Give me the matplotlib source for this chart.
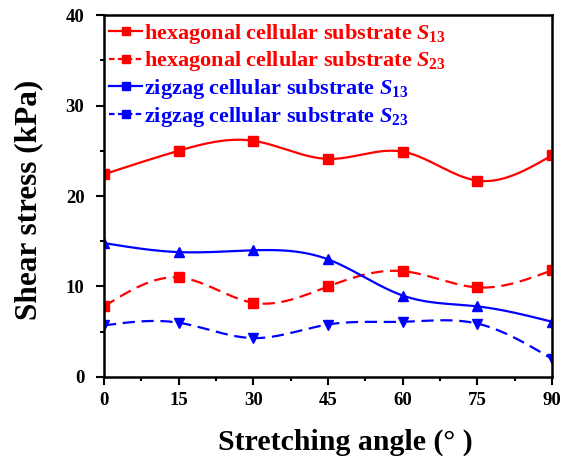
import numpy as np
import matplotlib
matplotlib.use("Agg")
import matplotlib.pyplot as plt
from matplotlib.lines import Line2D

angle = [0, 15, 30, 45, 60, 75, 90]
hex_s13 = [22.4, 25.0, 26.1, 24.1, 24.9, 21.7, 24.5]
hex_s23 = [7.8, 11.0, 8.2, 10.0, 11.7, 9.9, 11.8]
zig_s13 = [14.8, 13.8, 14.0, 13.0, 9.0, 7.8, 6.1]
zig_s23 = [5.7, 6.0, 4.3, 5.8, 6.1, 5.9, 2.0]

labels = [
    r"hexagonal cellular substrate $S_{\mathbf{13}}$",
    r"hexagonal cellular substrate $S_{\mathbf{23}}$",
    r"zigzag cellular substrate $S_{\mathbf{13}}$",
    r"zigzag cellular substrate $S_{\mathbf{23}}$",
]

plt.rcParams["font.family"] = "Liberation Serif"
plt.rcParams["font.weight"] = "bold"
plt.rcParams["mathtext.fontset"] = "custom"
plt.rcParams["mathtext.it"] = "Liberation Serif:italic:bold"
plt.rcParams["mathtext.bf"] = "Liberation Serif:bold"
plt.rcParams["mathtext.rm"] = "Liberation Serif:bold"


def natural_spline(x, y, n=300):
    # natural cubic spline through the measured points
    x = np.asarray(x, float)
    y = np.asarray(y, float)
    h = np.diff(x)
    m = len(x)
    A = np.zeros((m, m))
    b = np.zeros(m)
    A[0, 0] = A[-1, -1] = 1
    for i in range(1, m - 1):
        A[i, i - 1] = h[i - 1]
        A[i, i] = 2 * (h[i - 1] + h[i])
        A[i, i + 1] = h[i]
        b[i] = 3 * ((y[i + 1] - y[i]) / h[i] - (y[i] - y[i - 1]) / h[i - 1])
    c = np.linalg.solve(A, b)
    xs = np.linspace(x[0], x[-1], n)
    idx = np.clip(np.searchsorted(x, xs) - 1, 0, m - 2)
    dx = xs - x[idx]
    bc = (y[idx + 1] - y[idx]) / h[idx] - h[idx] * (2 * c[idx] + c[idx + 1]) / 3
    d = (c[idx + 1] - c[idx]) / (3 * h[idx])
    return xs, y[idx] + bc * dx + c[idx] * dx ** 2 + d * dx ** 3


fig = plt.figure(figsize=(5.68, 4.62), dpi=100)
ax = fig.add_axes([0.183, 0.184, 0.789, 0.7835])

dash = (0, (5.5, 3))
series = [
    (hex_s13, "red", "-", "s"),
    (hex_s23, "red", dash, "s"),
    (zig_s13, "blue", "-", "^"),
    (zig_s23, "blue", dash, "v"),
]

for vals, col, ls, mk in series:
    xs, ys = natural_spline(angle, vals)
    ax.plot(xs, ys, color=col, ls=ls, lw=1.6)
    ax.plot(angle, vals, ls="none", marker=mk, ms=7, color=col)

handles = [Line2D([], [], color=col, ls=(0, (2.5, 1.5)) if ls != "-" else "-",
                  lw=1.6, marker="s", ms=6)
           for _, col, ls, _ in series]
leg = ax.legend(handles, labels, loc="upper left", frameon=False,
                bbox_to_anchor=(-0.005, 1.003), handlelength=1.45,
                handletextpad=0.1, labelspacing=0.17, borderaxespad=0.25,
                borderpad=0.1,
                prop={"family": "Liberation Serif", "weight": "bold", "size": 16})
for txt, (_, col, _, _) in zip(leg.get_texts(), series):
    txt.set_color(col)

ax.set_xlim(0, 90)
ax.set_ylim(0, 40)
ax.set_xticks(angle)
ax.set_xticks(np.arange(7.5, 90, 15), minor=True)
ax.set_yticks([0, 10, 20, 30, 40])
ax.set_yticks([5, 15, 25, 35], minor=True)
ax.tick_params(which="both", direction="out", width=1.5, top=False, right=False,
               labelsize=13.5)
ax.tick_params(which="major", length=6)
ax.tick_params(which="minor", length=3)
ax.tick_params(axis="x", pad=5)
ax.tick_params(axis="y", pad=8)
for s in ax.spines.values():
    s.set_linewidth(1.8)

ax.set_xlabel("Stretching angle (° )", fontsize=21.5, fontweight="bold",
              labelpad=14, x=0.538)
ax.set_ylabel("Shear stress (kPa)", fontsize=22.5, fontweight="bold",
              labelpad=16, y=0.49)

fig.savefig("out.png", dpi=100)
